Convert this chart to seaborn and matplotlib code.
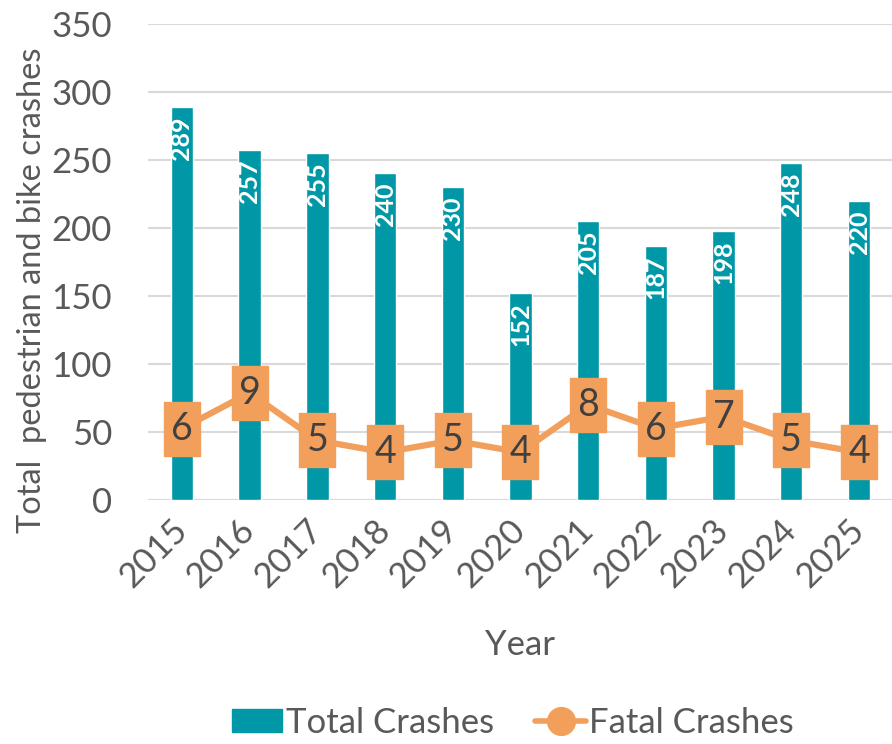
import seaborn as sns
import numpy as np
import pandas as pd
import matplotlib.pyplot as plt
from matplotlib.patches import Patch
from matplotlib.lines import Line2D

# data
years = ['2015', '2016', '2017', '2018', '2019', '2020', '2021', '2022', '2023', '2024', '2025']
total_crashes = [289, 257, 255, 240, 230, 152, 205, 187, 198, 248, 220]
fatal_crashes = [6, 9, 5, 4, 5, 4, 8, 6, 7, 5, 4]

teal = '#0097A7'
orange = '#F29F5C'
grey_txt = '#595959'

sns.set_theme(style='white')
plt.rcParams['font.family'] = ['Lato', 'DejaVu Sans']

df = pd.DataFrame({'Year': years, 'Total': total_crashes, 'Fatal': fatal_crashes})

fig = plt.figure(figsize=(8.92, 7.44), dpi=100)
ax = fig.add_axes([0.166, 0.328, 0.835, 0.64])

sns.barplot(data=df, x='Year', y='Total', color=teal, width=0.33, saturation=1, ax=ax)
ax.set_ylim(0, 350)
ax.set_xlim(-0.5, len(years) - 0.5)
ax.set_yticks(range(0, 351, 50))
ax.yaxis.grid(True, color='#D9D9D9', linewidth=1.5)
ax.set_axisbelow(True)
for s in ax.spines.values():
    s.set_visible(False)
ax.tick_params(axis='y', length=0, pad=26, labelsize=25, labelcolor=grey_txt)
ax.tick_params(axis='x', length=0, pad=18, labelsize=25, labelcolor=grey_txt)
for lbl in ax.get_xticklabels():
    lbl.set_rotation(45)
    lbl.set_ha('right')
    lbl.set_va('center')
    lbl.set_rotation_mode('anchor')
ax.set_xlabel('Year', fontsize=25, color=grey_txt, labelpad=26)
ax.set_ylabel('Total  pedestrian and bike crashes', fontsize=23.5, color=grey_txt)
ax.yaxis.set_label_coords(-0.136, 0.44)

# bar value labels inside top of bars
for i, v in enumerate(total_crashes):
    ax.text(i, v - 7, str(v), rotation=90, ha='center', va='top', color='white',
            fontsize=18, fontweight='bold')

# fatal crashes on hidden secondary axis
ax2 = ax.twinx()
ax2.set_ylim(0, 40)
xs = np.arange(len(years))
sns.lineplot(x=xs, y=fatal_crashes, color=orange, linewidth=4.5, ax=ax2, legend=False)
box = [(-0.65, -1), (0.65, -1), (0.65, 1), (-0.65, 1), (-0.65, -1)]
ax2.plot(xs, fatal_crashes, linestyle='none', marker=box, markersize=39,
         markerfacecolor=orange, markeredgecolor=orange)
for x, v in zip(xs, fatal_crashes):
    ax2.text(x, v, str(v), ha='center', va='center', fontsize=27, color='#404040')
ax2.set_yticks([])
ax2.set_ylabel('')
for s in ax2.spines.values():
    s.set_visible(False)
ax2.set_xlim(-0.5, len(years) - 0.5)

handles = [Patch(facecolor=teal, edgecolor=teal),
           Line2D([0], [0], color=orange, linewidth=4, marker='o', markersize=20,
                  markerfacecolor=orange, markeredgecolor=orange)]
fig.legend(handles, ['Total Crashes', 'Fatal Crashes'], loc='lower center',
           bbox_to_anchor=(0.575, -0.035), ncol=2, frameon=False, fontsize=25,
           labelcolor=grey_txt, handlelength=1.45, handleheight=0.65,
           handletextpad=0.1, columnspacing=1.2)

fig.savefig('out.png', dpi=100)
